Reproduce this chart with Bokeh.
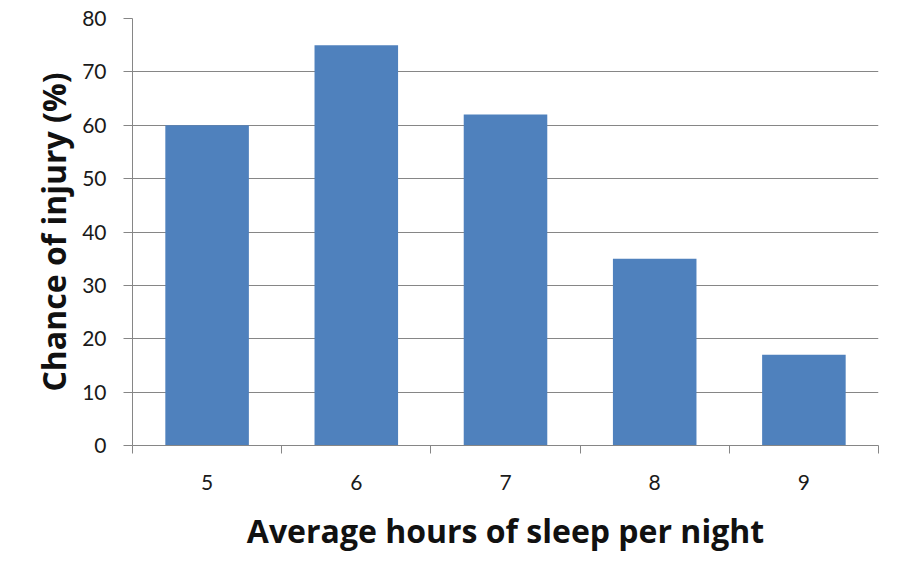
from bokeh.plotting import figure
from bokeh.models import ColumnDataSource, FixedTicker, Range1d
from bokeh.embed import file_html
from bokeh.resources import INLINE

hours = ["5", "6", "7", "8", "9"]
injury_chance = [60, 75, 62, 35, 17]
y_ticks = [0, 10, 20, 30, 40, 50, 60, 70, 80]

pos = list(range(1, len(hours) + 1))
source = ColumnDataSource(data=dict(x=pos, top=injury_chance, label=hours))

p = figure(width=882, height=555, output_backend="svg", toolbar_location=None,
           x_range=Range1d(0.5, len(hours) + 0.5), y_range=Range1d(0, 80),
           min_border_left=132, min_border_right=4, min_border_top=18,
           min_border_bottom=110)
p.outline_line_color = None
p.background_fill_color = "white"
p.border_fill_color = "white"

p.vbar(x="x", top="top", width=0.56, bottom=0, source=source,
       fill_color="#4F81BD", line_color=None)

FONT = "Lato"
TITLE_FONT = "Open Sans"
GREY = "#868686"

# x axis
p.xaxis.ticker = FixedTicker(ticks=pos, minor_ticks=[i + 0.5 for i in range(0, len(hours) + 1)])
p.xaxis.major_label_overrides = {i: h for i, h in zip(pos, hours)}
p.xaxis.major_tick_out = 0
p.xaxis.major_tick_in = 0
p.xaxis.minor_tick_out = 8
p.xaxis.minor_tick_in = 0
p.xaxis.minor_tick_line_color = GREY
p.xaxis.axis_line_color = GREY
p.xaxis.major_label_standoff = 21
p.xaxis.major_label_text_font = FONT
p.xaxis.major_label_text_font_size = "21px"
p.xaxis.major_label_text_color = "#1a1a1a"
p.xaxis.axis_label = "Average hours of sleep per night"
p.xaxis.axis_label_text_font = TITLE_FONT
p.xaxis.axis_label_text_font_style = "bold"
p.xaxis.axis_label_text_font_size = "32px"
p.xaxis.axis_label_text_color = "#111111"
p.xaxis.axis_label_standoff = 16

# y axis
p.yaxis.ticker = FixedTicker(ticks=y_ticks)
p.yaxis.major_tick_out = 9
p.yaxis.major_tick_in = 0
p.yaxis.minor_tick_out = 0
p.yaxis.minor_tick_in = 0
p.yaxis.major_tick_line_color = GREY
p.yaxis.axis_line_color = GREY
p.yaxis.major_label_standoff = 17
p.yaxis.major_label_text_font = FONT
p.yaxis.major_label_text_font_size = "21px"
p.yaxis.major_label_text_color = "#1a1a1a"
p.yaxis.axis_label = "Chance of injury (%)"
p.yaxis.axis_label_text_font = TITLE_FONT
p.yaxis.axis_label_text_font_style = "bold"
p.yaxis.axis_label_text_font_size = "32px"
p.yaxis.axis_label_text_color = "#111111"
p.yaxis.axis_label_standoff = 4

p.xgrid.grid_line_color = None
p.ygrid.grid_line_color = GREY
p.ygrid.grid_line_width = 1
p.ygrid.level = "underlay"

open("out.html", "w").write(file_html(p, INLINE))
